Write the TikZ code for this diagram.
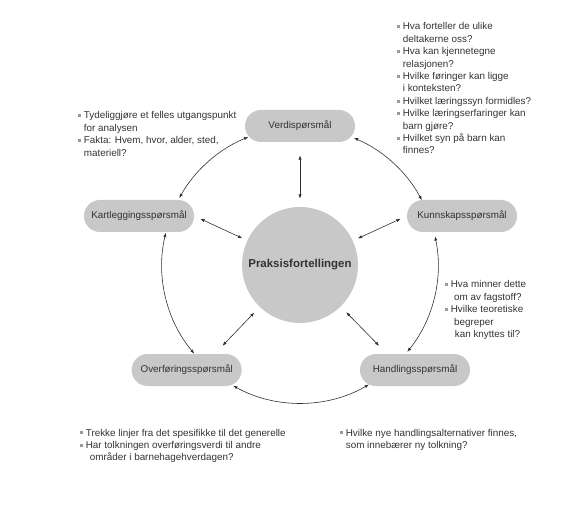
\documentclass[tikz,border=0pt]{standalone}
\usepackage{fontspec}
\setmainfont{Liberation Sans}
\usetikzlibrary{arrows.meta,positioning}
\definecolor{pillgray}{HTML}{C8C8C8}
\definecolor{textgray}{HTML}{333333}
\definecolor{bulletgray}{HTML}{9A9A9A}
\definecolor{linegray}{HTML}{303030}
\newcommand{\notesfont}{\fontsize{7.4pt}{9.3pt}\selectfont}
\newcommand{\bul}{\textcolor{bulletgray}{\rule[1.4pt]{2pt}{2pt}}}
\tikzstyle{question} = [fill=pillgray, rectangle, rounded corners=12pt, minimum height=24pt, minimum width=82.5pt, inner sep=0pt, text=textgray, font=\notesfont]
\tikzstyle{hub} = [fill=pillgray, circle, minimum size=87pt, inner sep=0pt, text=textgray, font=\fontsize{8.6pt}{10pt}\selectfont\bfseries]
\tikzstyle{notes} = [inner sep=0pt, anchor=base west, text=textgray, font=\notesfont]
\tikzstyle{link} = [<->, draw=linegray, line width=0.45pt]

\begin{document}
\begin{tikzpicture}[x=0.75pt, y=-0.75pt, >={Latex[length=3.2pt,width=2.4pt]}]

\useasboundingbox (0,0) rectangle (570,505);

\node [hub] (praksis) at (300,265) {Praksisfortellingen};
\node [question, above of=praksis, node distance=104.25pt] (verdi) {Verdispørsmål};
\node [question, left of=praksis, node distance=120.75pt, yshift=36.75pt] (kartlegging) {Kartleggingsspørsmål};
\node [question, right of=praksis, node distance=121.5pt, yshift=36.75pt] (kunnskap) {Kunnskapsspørsmål};
\node [question, left of=praksis, node distance=85pt, yshift=-78.75pt] (overforing) {Overføringsspørsmål};
\node [question, right of=praksis, node distance=86.25pt, yshift=-78.75pt] (handling) {Handlingsspørsmål};

\draw [link, shorten <=9.75pt, shorten >=6pt] (verdi) -- (praksis);
\draw [link, shorten <=5pt, shorten >=4pt] (kartlegging.east) -- (praksis);
\draw [link, shorten <=5pt, shorten >=4pt] (kunnskap.west) -- (praksis);
\draw [link, shorten <=8.25pt, shorten >=5.8pt] (overforing.30) -- (praksis);
\draw [link, shorten <=8.25pt, shorten >=5.8pt] (handling.150) -- (praksis);

\draw [link] ([shift={(112:103.5pt)}]praksis.center) arc [start angle=112, end angle=151, radius=103.5pt];
\draw [link] ([shift={(166.5:103.5pt)}]praksis.center) arc [start angle=166.5, end angle=220, radius=103.5pt];
\draw [link] ([shift={(241:103.5pt)}]praksis.center) arc [start angle=241, end angle=300, radius=103.5pt];
\draw [link] ([shift={(321:103.5pt)}]praksis.center) arc [start angle=321, end angle=372, radius=103.5pt];
\draw [link] ([shift={(28:103.5pt)}]praksis.center) arc [start angle=28, end angle=67, radius=103.5pt];

\node [notes] (verdinotes) at (397,30) {\begin{tabular}[t]{@{}l@{\hspace{2.2pt}}l@{}}
\bul & Hva forteller de ulike\\
 & deltakerne oss?\\
\bul & Hva kan kjennetegne\\
 & relasjonen?\\
\bul & Hvilke føringer kan ligge\\
 & i konteksten?\\
\bul & Hvilket læringssyn formidles?\\
\bul & Hvilke læringserfaringer kan\\
 & barn gjøre?\\
\bul & Hvilket syn på barn kan\\
 & finnes?
\end{tabular}};

\node [notes] (kartleggingnotes) at (78,119) {\begin{tabular}[t]{@{}l@{\hspace{2.2pt}}l@{}}
\bul & Tydeliggjøre et felles utgangspunkt\\
 & for analysen\\
\bul & Fakta: Hvem, hvor, alder, sted,\\
 & materiell?
\end{tabular}};

\node [notes] (kunnskapnotes) at (445,288) {\begin{tabular}[t]{@{}l@{\hspace{2.2pt}}l@{}}
\bul & Hva minner dette\\
 & \hspace{2.5pt}om av fagstoff?\\
\bul & Hvilke teoretiske\\
 & \hspace{2.5pt}begreper\\
 & \hspace{3pt}kan knyttes til?
\end{tabular}};

\node [notes] (overforingnotes) at (80,436) {\begin{tabular}[t]{@{}l@{\hspace{2.2pt}}l@{}}
\bul & Trekke linjer fra det spesifikke til det generelle\\
\bul & Har tolkningen overføringsverdi til andre\\
 & \hspace{3pt}områder i barnehagehverdagen?
\end{tabular}};

\node [notes] (handlingnotes) at (340,436) {\begin{tabular}[t]{@{}l@{\hspace{2.2pt}}l@{}}
\bul & Hvilke nye handlingsalternativer finnes,\\
 & som innebærer ny tolkning?
\end{tabular}};

\end{tikzpicture}
\end{document}
